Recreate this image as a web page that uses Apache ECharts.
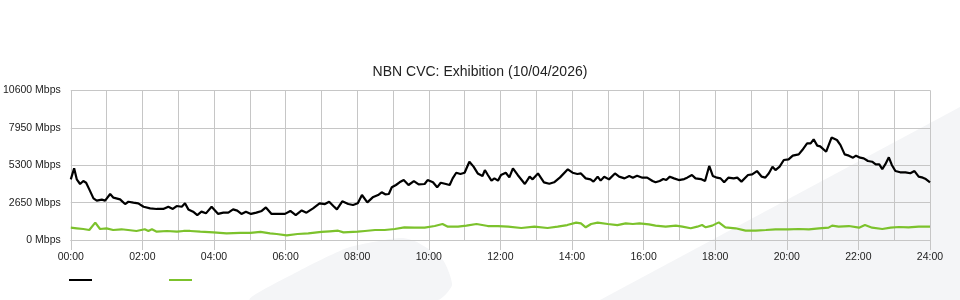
<!DOCTYPE html>
<html>
<head>
<meta charset="utf-8">
<script src="https://cdn.jsdelivr.net/npm/echarts@6/dist/echarts.min.js"></script>
<style>
html,body{margin:0;padding:0;background:#fff;}
#chart{width:960px;height:300px;}
</style>
</head>
<body>
<div id="chart"></div>
<script>
var titleText = 'NBN CVC: Exhibition (10/04/2026)';
var yTicks = [0, 2650, 5300, 7950, 10600];

// Download (black) — minutes since 00:00 and Mbps
var dlMinutes = [0,5.6,10,15.6,21,25.7,31,38,43.5,52,57.5,66,71.5,82.6,91,96.5,105,113,122,133,144,155,163.5,171,177.5,186,191.4,197,205,212,219,226.5,236,247,255.6,264,272,279,286,293.5,302,311,320,327,336.5,347.6,359,368,377,387,395,406,417,426,433,440,446,455,465,473,
481,488,497,506,515,521,527,533,538,545,551,558,566,575,583,593,598,607,614,620,627,635,640,646,653,660,668,675,682,690,694,699,705,710,716,721,729,735,741,749,761,769,774,783,793,802,810,820,833,841,849,855,863,871,876,883,888,894,902,912,919,928,936,942,949,
958,966,975,980,987,993,998,1004,1011,1019,1028,1033,1036,1041,1047,1056,1063,1070,1076,1083,1089,1095,1102,1111,1117,1124,1135,1142,1150,1158,1164,1170,1176,1181,1188,1195,1203,1210,1220,1226,1234,1240,1245,1251,1256,1266,1275,1284,1290,1297,1304,1311,1316,1323,1329,1336,1343,1349,1355,1360,1365,1371,1376,1382,1390,1399,1407,1414,1421,1428,1433,1440];
var dlMbps = [4300,5080,4300,3970,4180,4060,3590,2950,2790,2860,2790,3260,3000,2880,2550,2710,2650,2600,2360,2245,2200,2200,2360,2200,2410,2360,2600,2170,2010,1770,2010,1890,2360,1850,1940,1940,2170,2080,1850,2010,1850,1940,2060,2310,1850,1850,1850,2060,1770,2100,1940,2245,2600,2550,2710,2410,2170,2740,2550,2480,
2600,3190,2670,3025,3190,3380,3240,3260,3735,3900,4090,4250,3900,4180,3945,3970,4250,4090,3735,4060,3990,3900,4370,4770,4680,4770,5550,5200,4720,4540,4960,4610,4210,4370,4210,4610,4770,4440,5080,4610,3970,4490,4300,4720,4090,3990,4090,4440,5010,4770,4680,4720,4370,4300,4140,4490,4210,4490,4300,4720,4490,4370,4540,4420,4560,
4420,4420,4180,4090,4180,4320,4250,4490,4370,4250,4320,4420,4320,4610,4370,4320,4180,5250,4540,4420,4370,4090,4420,4370,4420,4140,4610,4650,4890,4490,4420,4730,5200,4960,5200,5670,5720,5980,6070,6380,6850,6850,7140,6690,6640,6260,7260,7090,6730,6070,5980,5840,5980,5840,5790,5600,5550,5360,5360,5030,5360,5860,5320,4890,4800,4800,4730,4890,4490,4420,4320,4090];

// Upload (green)
var ulMinutes = [0,10,21,31,41,49,60,71,85,96,110,124,130,136,144,161,178,189,200,217,239,261,284,301,318,334,345,362,380,398,420,434,448,457,481,
493,510,526,543,559,576,593,610,623,632,649,663,680,699,716,733,755,777,799,816,832,847,855,863,872,883,900,916,930,942,953,
969,980,997,1014,1025,1039,1050,1058,1064,1075,1086,1097,1114,1131,1148,1165,1181,1203,1220,1237,1254,1270,1276,1287,1304,1321,1331,1343,1360,1374,1388,1404,1421,1440];
var ulMbps = [872,830,780,710,1230,780,828,710,760,710,640,760,640,760,590,640,590,640,640,590,540,470,500,500,570,470,425,330,425,470,570,615,660,540,590,
640,710,710,780,900,875,875,990,1135,945,945,1020,1135,990,990,945,850,945,850,945,1060,1230,1180,900,1135,1230,1135,1060,1180,1135,1180,
1110,1020,945,1020,945,830,945,1060,900,1020,1250,900,830,660,660,710,760,760,780,760,830,875,1020,945,990,875,1060,875,780,875,920,900,945,945];

function pairs(xs, ys) {
  return xs.map(function (x, i) { return [x, ys[i]]; });
}

var gridColor = '#c6c6c6';
var font = 'Liberation Sans, Arial, sans-serif';
var chart = echarts.init(document.getElementById('chart'), null, {renderer: 'canvas'});
chart.setOption({
  animation: false,
  backgroundColor: '#ffffff',
  title: {
    text: titleText,
    left: 'center',
    top: 60,
    textStyle: {fontFamily: font, fontSize: 14, fontWeight: 'normal', color: '#222'}
  },
  graphic: [
    {type: 'polygon', z: -100, silent: true,
     shape: {points: [[600,300],[960,107],[960,300]]},
     style: {fill: '#f4f5f7'}},
    {type: 'polygon', z: -100, silent: true,
     shape: {points: [[250,300],[297,272],[347,248],[390,239],[403,238],[417,242],[443,260],[452,285],[438,300]], smooth: 0.2},
     style: {fill: '#f4f5f7'}}
  ],
  legend: {
    left: 64,
    top: 274,
    itemWidth: 23,
    itemHeight: 2,
    itemGap: 77,
    icon: 'rect',
    formatter: function () { return ''; },
    textStyle: {fontSize: 10},
    data: ['Download', 'Upload']
  },
  grid: {left: 70, right: 30, top: 90.5, bottom: 60, containLabel: false},
  xAxis: [{
    type: 'value',
    min: 0, max: 1440, interval: 120,
    axisLine: {show: true, lineStyle: {color: gridColor}},
    axisTick: {show: true, length: 10, lineStyle: {color: gridColor}},
    axisLabel: {
      margin: 12,
      fontFamily: font, fontSize: 10.5, color: '#222',
      formatter: function (v) { var h = Math.round(v / 60); return (h < 10 ? '0' : '') + h + ':00'; }
    },
    splitLine: {show: true, lineStyle: {color: gridColor, width: 1}}
  }, {
    type: 'value',
    position: 'bottom',
    min: 0, max: 1440, interval: 60,
    axisLine: {show: false},
    axisTick: {show: false},
    axisLabel: {show: false},
    splitLine: {show: true, lineStyle: {color: gridColor, width: 1}}
  }],
  yAxis: {
    type: 'value',
    min: yTicks[0], max: yTicks[yTicks.length - 1], interval: 2650,
    axisLine: {show: false},
    axisTick: {show: false},
    axisLabel: {
      margin: 10,
      fontFamily: font, fontSize: 10.5, color: '#222',
      formatter: function (v) { return String(v) + ' Mbps'; }
    },
    splitLine: {show: true, lineStyle: {color: gridColor, width: 1}}
  },
  series: [
    {name: 'Download', type: 'line', symbol: 'none', xAxisIndex: 0, data: pairs(dlMinutes, dlMbps),
     lineStyle: {color: '#000000', width: 2.2}, itemStyle: {color: '#000000'}},
    {name: 'Upload', type: 'line', symbol: 'none', xAxisIndex: 0, data: pairs(ulMinutes, ulMbps),
     lineStyle: {color: '#7cc22c', width: 2.2}, itemStyle: {color: '#7cc22c'}}
  ]
});
</script>
</body>
</html>
